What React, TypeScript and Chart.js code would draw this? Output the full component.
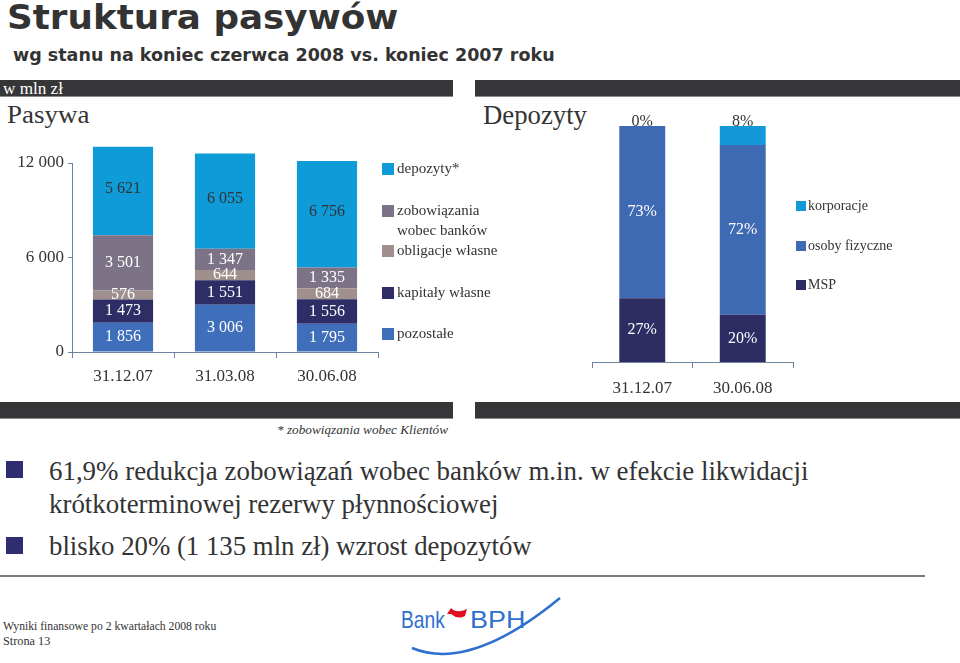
import React, { useEffect, useLayoutEffect, useRef, useState } from 'react';
import { Chart, registerables } from 'chart.js';
Chart.register(...registerables);

// ---------- data ----------
const pasywaCategories = ['31.12.07', '31.03.08', '30.06.08'];
const pozostale = [1856, 3006, 1795];
const kapitalyWlasne = [1473, 1551, 1556];
const obligacjeWlasne = [576, 644, 684];
const zobowiazaniaBanki = [3501, 1347, 1335];
const depozyty = [5621, 6055, 6756];
const pasywaTicks = [0, 6000, 12000];

const depozytyCategories = ['31.12.07', '30.06.08'];
const msp = [27, 20];
const osobyFizyczne = [73, 72];
const korporacje = [0, 8];

// ---------- styles ----------
const SERIF = "'Liberation Serif', 'Times New Roman', serif";
const AXIS = '#6A84A2';
const TEXT = '#333333';
const C_DEP = '#0F9AD8';
const C_ZOB = '#7C7386';
const C_OBL = '#A0908D';
const C_KAP = '#2E2D66';
const C_POZ = '#3F6EBA';
const C_KORP = '#1399D8';
const C_OSOB = '#3E69B3';
const C_MSP = '#2E2D63';

const fmtSpace = (v: number) => String(v).replace(/\B(?=(\d{3})+(?!\d))/g, ' ');

const segmentLabels = {
  id: 'segmentLabels',
  afterDatasetsDraw(chart: any, _a: any, opts: any) {
    const ctx = chart.ctx;
    ctx.save();
    ctx.font = opts.font;
    ctx.textAlign = 'center';
    ctx.textBaseline = 'middle';
    chart.data.datasets.forEach((ds: any, i: number) => {
      const meta = chart.getDatasetMeta(i);
      const st = opts.styles[i];
      meta.data.forEach((el: any, j: number) => {
        const v = ds.data[j];
        const p = el.getProps(['x', 'y', 'base'], true);
        const top = Math.min(p.y, p.base);
        const cy = st.atTop ? top - 4 : (p.y + p.base) / 2 + (st.dy || 0);
        ctx.fillStyle = st.color;
        ctx.fillText(opts.format(v), p.x, cy);
      });
    });
    ctx.restore();
  },
};

const sideLegend = {
  id: 'sideLegend',
  afterDraw(chart: any, _a: any, opts: any) {
    const ctx = chart.ctx;
    ctx.save();
    ctx.font = opts.font;
    ctx.textAlign = 'left';
    ctx.textBaseline = 'middle';
    opts.items.forEach((it: any) => {
      const ds = chart.data.datasets[it.dataset];
      ctx.fillStyle = ds.backgroundColor;
      ctx.fillRect(opts.boxX, it.y - opts.box / 2, opts.box, opts.box);
      ctx.fillStyle = opts.color;
      String(ds.label)
        .split('\n')
        .forEach((ln: string, k: number) => ctx.fillText(ln, opts.textX, it.y + k * opts.lineHeight));
    });
    ctx.restore();
  },
};

function PasywaChart() {
  const ref = useRef<HTMLCanvasElement>(null);
  useEffect(() => {
    const chart = new Chart(ref.current as HTMLCanvasElement, {
      type: 'bar',
      data: {
        labels: pasywaCategories,
        datasets: [
          { label: 'pozostałe', data: pozostale, backgroundColor: C_POZ },
          { label: 'kapitały własne', data: kapitalyWlasne, backgroundColor: C_KAP },
          { label: 'obligacje własne', data: obligacjeWlasne, backgroundColor: C_OBL },
          { label: 'zobowiązania\nwobec banków', data: zobowiazaniaBanki, backgroundColor: C_ZOB },
          { label: 'depozyty*', data: depozyty, backgroundColor: C_DEP },
        ].map((d) => ({ ...d, categoryPercentage: 1, barPercentage: 0.59, clip: false as any, borderWidth: 0 })),
      },
      options: {
        responsive: false,
        animation: false,
        layout: { padding: { top: 23, left: 0, right: 182, bottom: 0 } },
        plugins: {
          legend: { display: false },
          tooltip: { enabled: false },
          segmentLabels: {
            font: `16px ${SERIF}`,
            format: fmtSpace,
            styles: [
              { color: '#ffffff' },
              { color: '#ffffff' },
              { color: '#ffffff' },
              { color: '#ffffff' },
              { color: TEXT, dy: -2 },
            ],
          },
          sideLegend: {
            font: `15px ${SERIF}`,
            color: TEXT,
            box: 12,
            boxX: 382,
            textX: 397,
            lineHeight: 20,
            items: [
              { dataset: 4, y: 29 },
              { dataset: 3, y: 71 },
              { dataset: 2, y: 111 },
              { dataset: 1, y: 153 },
              { dataset: 0, y: 194 },
            ],
          },
        } as any,
        scales: {
          x: {
            stacked: true,
            afterFit: (s: any) => { s.height = 43; },
            grid: { display: true, drawOnChartArea: false, offset: true, tickLength: 6, color: AXIS, tickColor: AXIS },
            border: { display: true, color: AXIS, width: 1 },
            ticks: { color: TEXT, font: { family: SERIF, size: 17 }, padding: 8, maxRotation: 0 },
          },
          y: {
            stacked: true,
            min: 0,
            max: 12000,
            afterFit: (s: any) => { s.width = 72; },
            afterBuildTicks: (s: any) => { s.ticks = pasywaTicks.map((v) => ({ value: v })); },
            grid: { display: true, drawOnChartArea: false, tickLength: 4, color: AXIS, tickColor: AXIS },
            border: { display: true, color: AXIS, width: 1 },
            ticks: { color: TEXT, font: { family: SERIF, size: 17 }, padding: 4, callback: (v: any) => fmtSpace(Number(v)) },
          },
        },
      },
      plugins: [segmentLabels, sideLegend],
    } as any);
    return () => chart.destroy();
  }, []);
  return <canvas ref={ref} width={560} height={255} style={{ position: 'absolute', left: 0, top: 140 }} />;
}

function DepozytyChart() {
  const ref = useRef<HTMLCanvasElement>(null);
  useEffect(() => {
    const chart = new Chart(ref.current as HTMLCanvasElement, {
      type: 'bar',
      data: {
        labels: depozytyCategories,
        datasets: [
          { label: 'MSP', data: msp, backgroundColor: C_MSP },
          { label: 'osoby fizyczne', data: osobyFizyczne, backgroundColor: C_OSOB },
          { label: 'korporacje', data: korporacje, backgroundColor: C_KORP },
        ].map((d) => ({ ...d, categoryPercentage: 1, barPercentage: 0.457, clip: false as any, borderWidth: 0 })),
      },
      options: {
        responsive: false,
        animation: false,
        layout: { padding: { top: 26, left: 32, right: 167, bottom: 0 } },
        plugins: {
          legend: { display: false },
          tooltip: { enabled: false },
          segmentLabels: {
            font: `16px ${SERIF}`,
            format: (v: number) => `${v}%`,
            styles: [{ color: '#ffffff' }, { color: '#ffffff' }, { color: TEXT, atTop: true }],
          },
          sideLegend: {
            font: `14px ${SERIF}`,
            color: TEXT,
            box: 10,
            boxX: 236,
            textX: 248,
            lineHeight: 18,
            items: [
              { dataset: 2, y: 106 },
              { dataset: 1, y: 146 },
              { dataset: 0, y: 185 },
            ],
          },
        } as any,
        scales: {
          x: {
            stacked: true,
            afterFit: (s: any) => { s.height = 38; },
            grid: { display: true, drawOnChartArea: false, offset: true, tickLength: 6, color: AXIS, tickColor: AXIS },
            border: { display: true, color: AXIS, width: 1 },
            ticks: { color: TEXT, font: { family: SERIF, size: 17 }, padding: 10, maxRotation: 0 },
          },
          y: { stacked: true, display: false, min: 0, max: 100 },
        },
      },
      plugins: [segmentLabels, sideLegend],
    } as any);
    return () => chart.destroy();
  }, []);
  return <canvas ref={ref} width={400} height={300} style={{ position: 'absolute', left: 560, top: 100 }} />;
}

function FitText(props: { text: string; left: number; top: number; font: string; width?: number; color?: string }) {
  const ref = useRef<HTMLSpanElement>(null);
  const [sx, setSx] = useState(1);
  useLayoutEffect(() => {
    const measure = () => {
      if (ref.current && props.width) {
        const w = ref.current.offsetWidth;
        if (w > 0) setSx(props.width / w);
      }
    };
    measure();
    if ((document as any).fonts && (document as any).fonts.ready) (document as any).fonts.ready.then(measure);
  }, [props.text, props.width, props.font]);
  return (
    <span
      ref={ref}
      style={{
        position: 'absolute',
        left: props.left,
        top: props.top,
        font: props.font,
        lineHeight: 1,
        color: props.color || TEXT,
        whiteSpace: 'nowrap',
        display: 'inline-block',
        transform: `scaleX(${sx})`,
        transformOrigin: '0 0',
      }}
    >
      {props.text}
    </span>
  );
}

const bar = (left: number, top: number, width: number): React.CSSProperties => ({
  position: 'absolute', left, top, width, height: 17, background: '#363638', borderBottom: '1px solid #8a8a8a', boxSizing: 'border-box',
});

export default function App() {
  return (
    <div style={{ position: 'fixed', left: 0, top: 0, width: 960, height: 663, background: '#ffffff', overflow: 'hidden' }}>
      <FitText text="Struktura pasywów" left={7} top={1} font={`bold 33px 'DejaVu Sans', sans-serif`} width={391} />
      <FitText text="wg stanu na koniec czerwca 2008 vs. koniec 2007 roku" left={13} top={46} font={`bold 18px 'DejaVu Sans', sans-serif`} width={542} />

      <div style={bar(0, 80, 453)} />
      <div style={bar(475, 80, 485)} />
      <FitText text="w mln zł" left={3} top={81} font={`16px ${SERIF}`} width={60} color="#ffffff" />

      <FitText text="Pasywa" left={7} top={102} font={`26px ${SERIF}`} width={82} />
      <FitText text="Depozyty" left={483} top={102} font={`27px ${SERIF}`} width={104} />

      <PasywaChart />
      <DepozytyChart />

      <div style={bar(0, 402, 453)} />
      <div style={bar(475, 402, 485)} />
      <FitText text="* zobowiązania wobec Klientów" left={277} top={424} font={`italic 12px ${SERIF}`} width={171} />

      <div style={{ position: 'absolute', left: 6, top: 461, width: 17, height: 17, background: '#2E2D70' }} />
      <FitText text="61,9% redukcja zobowiązań wobec banków m.in. w efekcie likwidacji" left={49} top={458} font={`27px ${SERIF}`} width={759} />
      <FitText text="krótkoterminowej rezerwy płynnościowej" left={49} top={491} font={`27px ${SERIF}`} width={449} />
      <div style={{ position: 'absolute', left: 6, top: 537, width: 17, height: 17, background: '#2E2D70' }} />
      <FitText text="blisko 20% (1 135 mln zł) wzrost depozytów" left={49} top={533} font={`27px ${SERIF}`} width={483} />

      <div style={{ position: 'absolute', left: 0, top: 575, width: 925, height: 2, background: '#7a7a7a' }} />

      <FitText text="Wyniki finansowe po 2 kwartałach 2008 roku" left={3} top={620} font={`12px ${SERIF}`} width={213} />
      <FitText text="Strona 13" left={3} top={635} font={`12px ${SERIF}`} width={47} />

      <FitText text="Bank" left={401} top={608} font={`24px 'Liberation Sans Narrow', 'Liberation Sans', sans-serif`} width={44} color="#2F6FD0" />
      <FitText text="BPH" left={470} top={608} font={`24px 'Liberation Sans Narrow', 'Liberation Sans', sans-serif`} width={55} color="#2F6FD0" />
      <svg width={960} height={663} style={{ position: 'absolute', left: 0, top: 0, pointerEvents: 'none' }}>
        <path d="M447 614 L451 608 Q457 614 467 609 L465 616 Q458 620 451 614 Z" fill="#E0101E" />
        <path d="M412 648 Q470 672 560 598" stroke="#2F6FD0" strokeWidth={2.5} fill="none" />
      </svg>
    </div>
  );
}
